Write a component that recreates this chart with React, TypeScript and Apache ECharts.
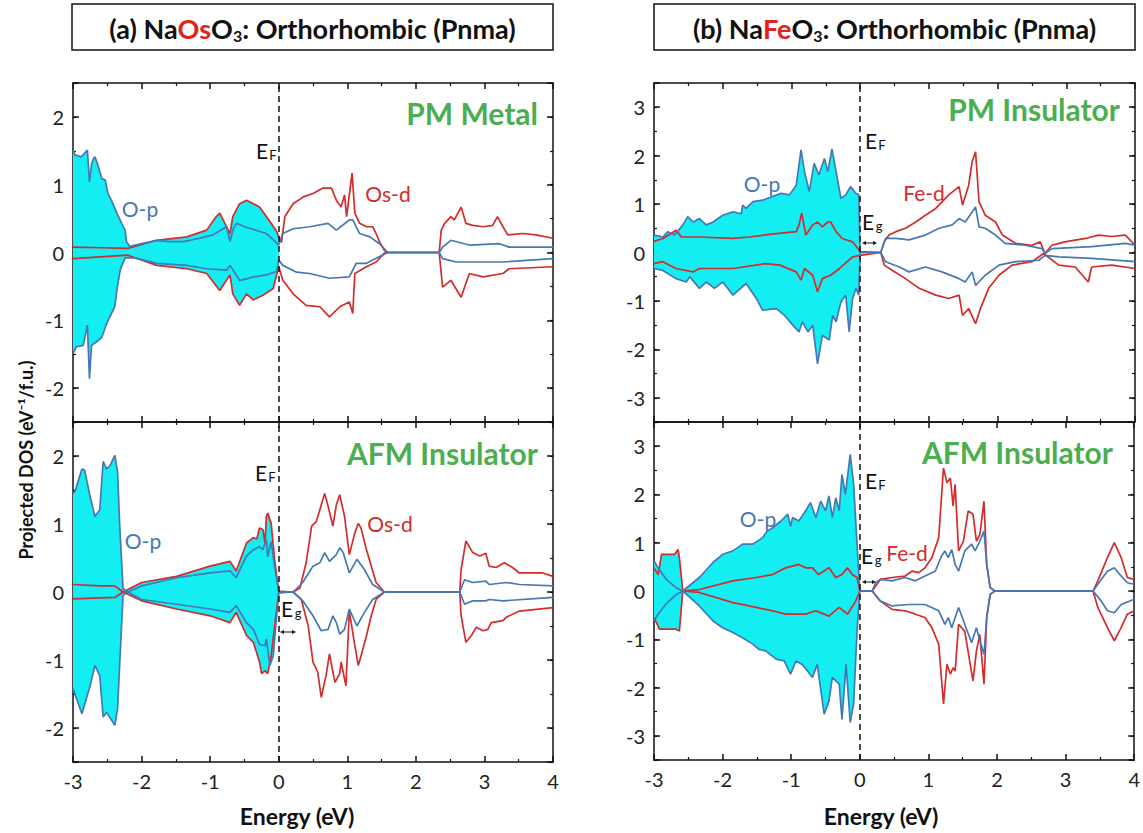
import React, { useEffect, useRef } from 'react';
import * as echarts from 'echarts';

type P = [number, number][];

// ---------- (a) NaOsO3, PM Metal ----------
const aPmOpUp: P = [[-3.0,1.51],[-2.97,1.44],[-2.88,1.41],[-2.79,1.51],[-2.76,1.04],[-2.73,1.30],[-2.70,1.39],[-2.68,1.41],[-2.63,1.27],[-2.58,1.09],[-2.53,1.07],[-2.49,0.87],[-2.44,0.77],[-2.36,0.58],[-2.29,0.43],[-2.24,0.33],[-2.22,0.16],[-2.17,0.09],[-2.0,0.13],[-1.78,0.18],[-1.6,0.16],[-1.39,0.16],[-1.15,0.21],[-0.96,0.26],[-0.81,0.35],[-0.76,0.38],[-0.71,0.16],[-0.66,0.36],[-0.61,0.43],[-0.5,0.38],[-0.4,0.35],[-0.18,0.28],[-0.05,0.16],[0.0,0.11],[0.06,0.28],[0.21,0.35],[0.45,0.38],[0.72,0.43],[0.84,0.33],[1.03,0.48],[1.08,0.48],[1.18,0.28],[1.33,0.23],[1.47,0.13],[1.59,0.0],[2.34,0.0],[2.39,0.08],[2.51,0.18],[2.78,0.11],[3.22,0.13],[3.36,0.08],[4.0,0.08]];
const aPmOpDn: P = [[-3.0,-1.49],[-2.95,-1.39],[-2.85,-1.37],[-2.79,-1.07],[-2.76,-1.86],[-2.73,-1.37],[-2.66,-1.32],[-2.58,-1.25],[-2.51,-1.05],[-2.44,-0.9],[-2.39,-0.8],[-2.36,-0.55],[-2.31,-0.25],[-2.24,-0.08],[-2.1,-0.08],[-1.78,-0.16],[-1.34,-0.19],[-1.05,-0.24],[-0.76,-0.26],[-0.71,-0.19],[-0.57,-0.41],[-0.47,-0.39],[-0.37,-0.36],[-0.18,-0.33],[-0.03,-0.28],[0.0,-0.11],[0.06,-0.19],[0.26,-0.29],[0.45,-0.31],[0.74,-0.38],[1.03,-0.36],[1.13,-0.16],[1.28,-0.16],[1.47,-0.06],[1.59,0.0],[2.34,0.0],[2.39,-0.09],[2.59,-0.14],[3.27,-0.14],[4.0,-0.09]];
const aPmDUp: P = [[-3.0,0.08],[-2.6,0.07],[-2.2,0.06],[-1.78,0.18],[-1.34,0.23],[-1.05,0.33],[-0.91,0.53],[-0.86,0.58],[-0.71,0.28],[-0.67,0.53],[-0.57,0.72],[-0.47,0.77],[-0.37,0.72],[-0.28,0.67],[-0.18,0.53],[-0.11,0.43],[-0.03,0.31],[0.0,0.23],[0.04,0.15],[0.09,0.53],[0.21,0.72],[0.36,0.82],[0.5,0.87],[0.65,0.95],[0.77,0.95],[0.84,0.77],[0.91,0.67],[0.96,0.85],[0.99,0.53],[1.07,1.17],[1.11,0.58],[1.18,0.43],[1.28,0.38],[1.37,0.38],[1.42,0.28],[1.47,0.16],[1.54,0.03],[1.59,0.0],[2.34,0.0],[2.37,0.33],[2.42,0.43],[2.51,0.53],[2.56,0.48],[2.66,0.67],[2.73,0.43],[2.83,0.4],[2.98,0.38],[3.12,0.4],[3.19,0.53],[3.27,0.38],[3.34,0.26],[3.56,0.28],[3.75,0.26],[4.0,0.21]];
const aPmDDn: P = [[-3.0,-0.09],[-2.2,-0.04],[-1.78,-0.19],[-1.34,-0.24],[-1.05,-0.31],[-0.86,-0.56],[-0.71,-0.33],[-0.67,-0.61],[-0.57,-0.78],[-0.47,-0.61],[-0.37,-0.7],[-0.23,-0.63],[-0.08,-0.53],[0.0,-0.21],[0.06,-0.41],[0.21,-0.61],[0.4,-0.78],[0.6,-0.8],[0.74,-0.95],[0.89,-0.8],[1.03,-0.73],[1.08,-0.9],[1.11,-0.31],[1.28,-0.21],[1.42,-0.14],[1.54,-0.01],[1.59,0.0],[2.34,0.0],[2.39,-0.51],[2.51,-0.41],[2.66,-0.66],[2.78,-0.31],[2.98,-0.36],[3.27,-0.31],[3.36,-0.24],[4.0,-0.21]];

// ---------- (a) NaOsO3, AFM Insulator ----------
const aAfmOpUp: P = [[-3.0,1.45],[-2.97,1.48],[-2.87,1.81],[-2.83,1.79],[-2.75,1.4],[-2.68,1.11],[-2.61,1.21],[-2.56,1.92],[-2.51,1.81],[-2.46,1.86],[-2.39,2.01],[-2.35,1.77],[-2.32,1.0],[-2.27,0.05],[-2.2,0.0],[-2.0,0.09],[-1.49,0.21],[-1.0,0.28],[-0.71,0.31],[-0.62,0.21],[-0.47,0.53],[-0.37,0.62],[-0.28,0.67],[-0.23,0.62],[-0.18,0.77],[-0.16,0.52],[-0.11,0.74],[-0.06,0.38],[0.0,0.01],[0.21,0.0],[0.35,0.14],[0.5,0.38],[0.6,0.43],[0.67,0.58],[0.74,0.45],[0.84,0.55],[0.89,0.65],[0.94,0.58],[1.03,0.28],[1.14,0.48],[1.25,0.33],[1.37,0.11],[1.54,0.0],[2.64,0.0],[2.71,0.18],[2.83,0.14],[3.02,0.16],[3.07,0.11],[3.32,0.14],[3.51,0.11],[4.0,0.09]];
const aAfmOpDn: P = [[-3.0,-1.42],[-2.87,-1.79],[-2.75,-1.38],[-2.68,-1.08],[-2.61,-1.23],[-2.56,-1.84],[-2.51,-1.77],[-2.39,-1.96],[-2.35,-1.72],[-2.32,-1.08],[-2.27,-0.05],[-2.2,0.0],[-2.0,-0.11],[-1.49,-0.18],[-1.0,-0.25],[-0.71,-0.3],[-0.62,-0.2],[-0.47,-0.45],[-0.37,-0.55],[-0.28,-0.77],[-0.2,-0.79],[-0.18,-0.69],[-0.13,-1.08],[-0.08,-0.94],[-0.03,-0.35],[0.0,-0.01],[0.21,0.0],[0.35,-0.13],[0.5,-0.35],[0.62,-0.57],[0.72,-0.55],[0.79,-0.35],[0.84,-0.45],[0.89,-0.62],[0.96,-0.55],[1.03,-0.25],[1.14,-0.5],[1.25,-0.3],[1.37,-0.11],[1.54,0.0],[2.64,0.0],[2.71,-0.18],[2.83,-0.13],[3.02,-0.13],[3.07,-0.11],[3.27,-0.13],[4.0,-0.08]];
const aAfmDUp: P = [[-3.0,0.11],[-2.61,0.09],[-2.39,0.09],[-2.27,0.0],[-2.0,0.14],[-1.49,0.23],[-1.0,0.38],[-0.71,0.45],[-0.62,0.31],[-0.47,0.72],[-0.37,0.8],[-0.32,0.78],[-0.28,0.94],[-0.23,0.92],[-0.2,0.72],[-0.18,1.11],[-0.16,1.16],[-0.11,1.01],[-0.06,0.48],[0.0,0.01],[0.21,0.0],[0.31,0.06],[0.4,0.43],[0.48,0.97],[0.55,1.04],[0.6,1.21],[0.67,1.45],[0.72,1.26],[0.79,0.97],[0.84,1.28],[0.89,1.43],[0.96,1.11],[1.03,0.55],[1.11,0.87],[1.16,1.01],[1.2,0.94],[1.28,0.62],[1.35,0.38],[1.42,0.14],[1.54,0.0],[2.64,0.0],[2.66,0.33],[2.73,0.75],[2.83,0.58],[2.93,0.53],[3.02,0.57],[3.07,0.38],[3.17,0.36],[3.29,0.43],[3.41,0.36],[3.51,0.28],[3.85,0.28],[4.0,0.23]];
const aAfmDDn: P = [[-3.0,-0.1],[-2.39,-0.08],[-2.27,0.0],[-2.0,-0.13],[-1.49,-0.25],[-1.0,-0.35],[-0.71,-0.45],[-0.62,-0.3],[-0.47,-0.64],[-0.37,-0.74],[-0.28,-1.03],[-0.25,-1.2],[-0.2,-1.16],[-0.16,-1.2],[-0.11,-0.94],[-0.06,-0.5],[0.0,-0.01],[0.21,0.0],[0.33,-0.11],[0.43,-0.5],[0.5,-1.03],[0.57,-1.18],[0.62,-1.55],[0.69,-1.23],[0.74,-0.91],[0.82,-1.33],[0.89,-1.2],[0.91,-1.03],[0.98,-1.38],[1.03,-0.28],[1.11,-0.79],[1.16,-1.08],[1.2,-0.94],[1.28,-0.64],[1.35,-0.35],[1.42,-0.11],[1.54,0.0],[2.64,0.0],[2.66,-0.35],[2.73,-0.74],[2.81,-0.64],[2.88,-0.52],[2.98,-0.57],[3.05,-0.55],[3.1,-0.45],[3.27,-0.42],[3.32,-0.37],[3.51,-0.28],[4.0,-0.23]];

// ---------- (b) NaFeO3, PM Insulator ----------
const bPmOpUp: P = [[-3.0,0.36],[-2.87,0.32],[-2.8,0.43],[-2.7,0.36],[-2.58,0.57],[-2.51,0.74],[-2.43,0.63],[-2.34,0.7],[-2.24,0.57],[-2.14,0.63],[-2.0,0.77],[-1.85,0.84],[-1.73,0.8],[-1.71,0.98],[-1.66,0.91],[-1.56,1.05],[-1.42,1.08],[-1.27,1.16],[-1.15,1.22],[-1.03,1.19],[-0.93,1.39],[-0.86,2.12],[-0.81,1.67],[-0.74,1.26],[-0.67,1.84],[-0.6,1.6],[-0.52,1.94],[-0.47,1.67],[-0.41,2.14],[-0.35,1.67],[-0.28,1.12],[-0.21,1.19],[-0.14,1.36],[-0.06,1.22],[-0.02,1.19],[0.0,0.0],[0.3,0.0],[0.37,0.29],[0.52,0.29],[0.71,0.26],[0.95,0.36],[1.15,0.5],[1.34,0.57],[1.44,0.7],[1.53,0.63],[1.68,0.94],[1.73,0.53],[1.82,0.5],[1.97,0.36],[2.11,0.19],[2.4,0.15],[2.65,0.08],[2.69,-0.02],[2.79,0.08],[3.37,0.12],[3.86,0.19],[4.0,0.15]];
const bPmOpDn: P = [[-3.0,-0.33],[-2.87,-0.37],[-2.68,-0.54],[-2.53,-0.61],[-2.48,-0.5],[-2.34,-0.74],[-2.24,-0.61],[-2.12,-0.74],[-2.0,-0.61],[-1.85,-0.88],[-1.66,-0.64],[-1.51,-0.95],[-1.42,-1.19],[-1.22,-1.16],[-1.1,-1.3],[-0.98,-1.5],[-0.89,-1.64],[-0.84,-1.43],[-0.76,-1.64],[-0.69,-1.5],[-0.62,-2.3],[-0.55,-1.71],[-0.45,-1.81],[-0.4,-1.3],[-0.35,-1.43],[-0.28,-1.02],[-0.21,-0.88],[-0.16,-1.64],[-0.11,-0.95],[-0.06,-0.74],[-0.02,-0.88],[0.0,0.0],[0.3,0.0],[0.37,-0.19],[0.57,-0.3],[0.71,-0.4],[0.95,-0.3],[1.19,-0.4],[1.44,-0.54],[1.53,-0.61],[1.63,-0.4],[1.68,-0.68],[1.82,-0.47],[2.02,-0.26],[2.26,-0.19],[2.6,-0.16],[2.69,-0.06],[2.89,-0.09],[3.37,-0.12],[4.0,-0.19]];
const bPmDUp: P = [[-3.0,0.23],[-2.87,0.29],[-2.68,0.46],[-2.6,0.32],[-2.34,0.32],[-1.85,0.29],[-1.61,0.32],[-1.22,0.39],[-0.93,0.43],[-0.89,0.57],[-0.85,0.81],[-0.79,0.36],[-0.69,0.57],[-0.62,0.63],[-0.55,0.53],[-0.47,0.63],[-0.43,0.63],[-0.35,0.43],[-0.26,0.29],[-0.11,0.22],[0.0,0.02],[0.3,0.0],[0.35,0.22],[0.42,0.36],[0.52,0.43],[0.66,0.5],[0.81,0.63],[0.95,0.77],[1.1,0.91],[1.29,1.19],[1.44,1.36],[1.49,0.98],[1.58,1.39],[1.63,1.88],[1.68,2.08],[1.73,1.05],[1.82,0.77],[1.97,0.63],[2.07,0.36],[2.26,0.19],[2.5,0.15],[2.62,0.22],[2.69,-0.02],[2.79,0.15],[2.98,0.22],[3.28,0.29],[3.47,0.36],[3.66,0.33],[3.86,0.36],[4.0,0.15]];
const bPmDDn: P = [[-3.0,-0.23],[-2.87,-0.19],[-2.68,-0.33],[-2.43,-0.4],[-2.34,-0.33],[-1.85,-0.33],[-1.37,-0.23],[-1.17,-0.26],[-0.93,-0.4],[-0.86,-0.57],[-0.81,-0.33],[-0.69,-0.47],[-0.62,-0.81],[-0.55,-0.54],[-0.43,-0.47],[-0.3,-0.33],[-0.11,-0.09],[0.0,-0.06],[0.3,0.0],[0.35,-0.26],[0.47,-0.37],[0.66,-0.54],[0.86,-0.74],[1.1,-0.88],[1.29,-0.95],[1.44,-0.88],[1.49,-1.3],[1.58,-1.16],[1.68,-1.47],[1.75,-1.16],[1.87,-0.74],[2.02,-0.47],[2.21,-0.26],[2.5,-0.19],[2.67,-0.02],[2.89,-0.26],[3.13,-0.3],[3.32,-0.61],[3.37,-0.3],[3.66,-0.26],[4.0,-0.33]];

// ---------- (b) NaFeO3, AFM Insulator ----------
const bAfmOpUp: P = [[-3.0,0.62],[-2.94,0.48],[-2.82,0.24],[-2.68,0.07],[-2.58,0.0],[-2.34,0.28],[-2.14,0.59],[-2.0,0.76],[-1.85,0.83],[-1.71,0.97],[-1.56,0.97],[-1.42,1.1],[-1.35,1.24],[-1.27,1.31],[-1.15,1.45],[-1.05,1.59],[-1.01,1.34],[-0.98,1.52],[-0.89,1.45],[-0.79,1.66],[-0.72,1.83],[-0.64,1.52],[-0.57,1.86],[-0.5,1.66],[-0.45,1.97],[-0.4,1.52],[-0.35,1.93],[-0.3,1.66],[-0.26,2.41],[-0.21,2.0],[-0.14,2.83],[-0.09,2.21],[-0.04,0.97],[0.0,0.0],[0.18,0.0],[0.23,0.17],[0.3,0.24],[0.47,0.21],[0.66,0.28],[0.81,0.21],[0.95,0.31],[1.1,0.41],[1.19,0.72],[1.24,0.83],[1.29,0.69],[1.34,0.86],[1.39,0.55],[1.44,0.41],[1.53,0.83],[1.63,0.97],[1.68,0.83],[1.75,1.03],[1.81,1.24],[1.85,0.55],[1.9,0.07],[1.97,0.0],[3.4,0.0],[3.52,0.24],[3.61,0.41],[3.71,0.48],[3.81,0.31],[3.9,0.17],[4.0,0.14]];
const bAfmOpDn: P = [[-3.0,-0.62],[-2.94,-0.48],[-2.82,-0.26],[-2.68,-0.08],[-2.58,0.0],[-2.34,-0.31],[-2.14,-0.62],[-2.0,-0.76],[-1.85,-0.86],[-1.71,-0.97],[-1.56,-1.1],[-1.47,-1.21],[-1.37,-1.24],[-1.22,-1.41],[-1.1,-1.45],[-1.01,-1.72],[-0.93,-1.45],[-0.84,-1.52],[-0.76,-1.66],[-0.69,-1.79],[-0.62,-1.52],[-0.52,-2.55],[-0.45,-2.28],[-0.4,-1.79],[-0.3,-1.93],[-0.26,-2.66],[-0.2,-1.52],[-0.14,-2.72],[-0.09,-2.34],[-0.04,-0.83],[0.0,0.0],[0.18,0.0],[0.3,-0.21],[0.47,-0.31],[0.71,-0.28],[0.95,-0.28],[1.15,-0.41],[1.24,-0.69],[1.29,-0.55],[1.34,-0.76],[1.39,-0.55],[1.44,-0.34],[1.53,-0.69],[1.63,-1.07],[1.7,-0.76],[1.75,-1.03],[1.81,-1.31],[1.85,-0.55],[1.9,-0.07],[1.97,0.0],[3.4,0.0],[3.52,-0.21],[3.61,-0.41],[3.71,-0.45],[3.81,-0.28],[4.0,-0.17]];
const bAfmDUp: P = [[-3.0,0.48],[-2.94,0.34],[-2.89,0.76],[-2.7,0.76],[-2.65,0.86],[-2.63,0.69],[-2.58,0.0],[-2.34,0.03],[-1.85,0.21],[-1.51,0.28],[-1.27,0.34],[-1.08,0.48],[-0.89,0.55],[-0.79,0.48],[-0.69,0.48],[-0.6,0.34],[-0.45,0.48],[-0.35,0.28],[-0.26,0.34],[-0.18,0.48],[-0.11,0.34],[-0.04,0.28],[0.0,0.0],[0.18,0.0],[0.3,0.24],[0.47,0.28],[0.66,0.31],[0.76,0.41],[0.86,0.38],[0.95,0.48],[1.05,0.69],[1.15,1.1],[1.22,2.55],[1.27,2.24],[1.32,2.34],[1.36,1.76],[1.39,2.21],[1.44,0.83],[1.51,1.03],[1.58,1.66],[1.65,1.59],[1.7,1.03],[1.75,1.17],[1.81,1.86],[1.85,0.55],[1.9,0.07],[1.97,0.0],[3.4,0.0],[3.47,0.21],[3.61,0.69],[3.71,1.0],[3.81,0.69],[3.9,0.28],[4.0,0.24]];
const bAfmDDn: P = [[-3.0,-0.55],[-2.92,-0.79],[-2.68,-0.79],[-2.63,-0.83],[-2.58,0.0],[-2.34,-0.03],[-1.85,-0.24],[-1.51,-0.34],[-1.27,-0.41],[-1.08,-0.48],[-0.79,-0.48],[-0.64,-0.41],[-0.45,-0.52],[-0.3,-0.34],[-0.18,-0.48],[-0.06,-0.21],[0.0,0.0],[0.18,0.0],[0.3,-0.21],[0.47,-0.38],[0.66,-0.41],[0.81,-0.48],[0.95,-0.55],[1.05,-0.76],[1.15,-1.1],[1.22,-2.34],[1.27,-1.52],[1.32,-1.72],[1.36,-1.59],[1.39,-1.66],[1.44,-0.69],[1.53,-0.83],[1.65,-1.86],[1.7,-1.24],[1.75,-0.9],[1.81,-1.93],[1.85,-0.55],[1.9,-0.07],[1.97,0.0],[3.4,0.0],[3.47,-0.34],[3.61,-0.76],[3.71,-1.03],[3.81,-0.76],[3.9,-0.48],[4.0,-0.41]];

// axis settings
const xMin = -3;
const xMax = 4;
const yLimits = [2.5, 2.5, 3.5, 3.5];
const panelNames = ['PM Metal', 'AFM Insulator', 'PM Insulator', 'AFM Insulator'];
const titles = [
  { tag: '(a) Na', metal: 'Os' },
  { tag: '(b) Na', metal: 'Fe' },
];
const xTitle = 'Energy (eV)';
const yTitle = 'Projected DOS (eV\u207B\u00B9/f.u.)';

const panelData = [
  { op: [aPmOpUp, aPmOpDn], d: [aPmDUp, aPmDDn] },
  { op: [aAfmOpUp, aAfmOpDn], d: [aAfmDUp, aAfmDDn] },
  { op: [bPmOpUp, bPmOpDn], d: [bPmDUp, bPmDDn] },
  { op: [bAfmOpUp, bAfmOpDn], d: [bAfmDUp, bAfmDDn] },
];

const FAM = 'Lato, "Noto Sans", sans-serif';
const BLUE = '#4578b4';
const RED = '#d42b2b';
const CYAN = '#12eef2';
const GREEN = '#4cae4f';
const INK = '#111';

const grids = [
  { left: 73, top: 83, width: 480, height: 339 },
  { left: 73, top: 422, width: 480, height: 340 },
  { left: 654, top: 83, width: 481, height: 339 },
  { left: 654, top: 422, width: 481, height: 338 },
];

function buildOption() {
  const xAxis: any[] = [];
  const yAxis: any[] = [];
  const series: any[] = [];
  const lineStyle = { color: INK, width: 1.5 };
  grids.forEach((_, g) => {
    const isBottom = g === 1 || g === 3;
    const L = yLimits[g];
    ['bottom', 'top'].forEach((pos) => {
      xAxis.push({
        gridIndex: g, type: 'value', min: xMin, max: xMax, interval: 1, position: pos,
        axisLine: { show: true, onZero: false, lineStyle },
        axisTick: { show: true, inside: true, length: 6, lineStyle },
        minorTick: { show: true, splitNumber: 2, length: 3, lineStyle: { color: INK, width: 1.2 } },
        splitLine: { show: false },
        axisLabel: {
          show: isBottom && pos === 'bottom', fontSize: 20, color: '#222', margin: 9,
          fontFamily: FAM,
        },
      });
    });
    ['left', 'right'].forEach((pos) => {
      yAxis.push({
        gridIndex: g, type: 'value', min: -L, max: L, splitNumber: L * 2, position: pos,
        axisLine: { show: true, onZero: false, lineStyle },
        axisTick: { show: true, inside: true, length: 6, lineStyle },
        splitLine: { show: false },
        axisLabel: {
          show: pos === 'left', fontSize: 20, color: '#222', margin: 9, fontFamily: FAM,
          formatter: (v: number) => (Math.abs(v - Math.round(v)) < 1e-6 ? String(Math.round(v)) : ''),
        },
      });
      yAxis.push({
        gridIndex: g, type: 'value', min: -L, max: L, interval: 0.5, position: pos,
        axisLine: { show: false, onZero: false },
        axisTick: { show: true, inside: true, length: 3, lineStyle: { color: INK, width: 1.2 } },
        splitLine: { show: false },
        axisLabel: { show: false },
      });
    });
    const xi = 2 * g;
    const yi = 4 * g;
    const pd = panelData[g];
    const all = [...pd.op, ...pd.d];
    all.forEach((arr) => {
      series.push({
        type: 'line', xAxisIndex: xi, yAxisIndex: yi, silent: true,
        data: arr.filter((p) => p[0] <= 0), symbol: 'none',
        lineStyle: { width: 0, opacity: 0 },
        areaStyle: { color: CYAN, opacity: 1, origin: 0 },
        z: 1,
      });
    });
    pd.d.forEach((arr) => {
      series.push({
        type: 'line', xAxisIndex: xi, yAxisIndex: yi, silent: true, data: arr,
        symbol: 'none', lineStyle: { color: RED, width: 1.7 }, z: 3,
      });
    });
    pd.op.forEach((arr, k) => {
      series.push({
        type: 'line', xAxisIndex: xi, yAxisIndex: yi, silent: true, data: arr,
        symbol: 'none', lineStyle: { color: BLUE, width: 1.7 }, z: 4,
        markLine: k === 0 ? {
          silent: true, symbol: ['none', 'none'], label: { show: false },
          lineStyle: { color: INK, type: [6, 4], width: 1.5 },
          data: [{ xAxis: 0 }],
        } : undefined,
      });
    });
  });

  const txt = (x: number, y: number, text: string, fontSize: number, color: string, extra: any = {}) => ({
    type: 'text', x, y, silent: true,
    style: { text, fontSize, fill: color, fontFamily: FAM, align: 'center', verticalAlign: 'middle', ...extra },
  });

  const subE = (x: number, y: number, sub: string) => [
    txt(x, y, 'E', 21, INK),
    txt(x + 11, y + 5, sub, 13, INK),
  ];

  const arrow = (x1: number, x2: number, y: number) => [
    { type: 'line', silent: true, shape: { x1: x1 + 2, y1: y, x2: x2 - 2, y2: y }, style: { stroke: INK, lineWidth: 1 } },
    { type: 'polygon', silent: true, shape: { points: [[x1, y], [x1 + 4, y - 2], [x1 + 4, y + 2]] }, style: { fill: INK } },
    { type: 'polygon', silent: true, shape: { points: [[x2, y], [x2 - 4, y - 2], [x2 - 4, y + 2]] }, style: { fill: INK } },
  ];

  const TS = 27;
  const SS = 16;
  const tFont = (size: number) => `bold ${size}px ${FAM}`;
  const titleBox = (x: number, w: number, t: { tag: string; metal: string }) => [
    { type: 'rect', silent: true, shape: { x, y: 4, width: w, height: 46 }, style: { fill: '#fff', stroke: INK, lineWidth: 1.5 } },
    {
      type: 'text', x: x + w / 2, y: 28, silent: true,
      style: {
        text: `{b|${t.tag}}{r|${t.metal}}{b|O}{s|3}{b|: Orthorhombic (Pnma)}`,
        align: 'center', verticalAlign: 'middle',
        fontSize: TS, fontWeight: 'bold', fontFamily: FAM, font: tFont(TS),
        rich: {
          b: { fontSize: TS, fontWeight: 'bold', fill: INK, fontFamily: FAM, font: tFont(TS), lineHeight: 30 },
          r: { fontSize: TS, fontWeight: 'bold', fill: '#e0211c', fontFamily: FAM, font: tFont(TS), lineHeight: 30 },
          s: { fontSize: SS, fontWeight: 'bold', fill: INK, fontFamily: FAM, font: tFont(SS), lineHeight: 30, verticalAlign: 'bottom', padding: [6, 0, 0, 0] },
        },
      },
    },
  ];

  const bold = { fontWeight: 'bold' };
  const right = { fontWeight: 'bold', align: 'right' };

  const graphic: any[] = [
    ...titleBox(72, 481, titles[0]),
    ...titleBox(654, 481, titles[1]),
    txt(538, 113, panelNames[0], 30, GREEN, right),
    txt(538, 453, panelNames[1], 30, GREEN, right),
    txt(1120, 109, panelNames[2], 30, GREEN, right),
    txt(1113, 452, panelNames[3], 30, GREEN, right),
    txt(140, 208, 'O-p', 21, BLUE),
    txt(143, 540, 'O-p', 21, BLUE),
    txt(762, 183, 'O-p', 21, BLUE),
    txt(758, 518, 'O-p', 21, BLUE),
    txt(388, 193, 'Os-d', 21, RED),
    txt(390, 523, 'Os-d', 21, RED),
    txt(924, 192, 'Fe-d', 21, RED),
    txt(907, 552, 'Fe-d', 21, RED),
    ...subE(262, 150, 'F'),
    ...subE(261, 472, 'F'),
    ...subE(871, 140, 'F'),
    ...subE(871, 480, 'F'),
    ...subE(287, 608, 'g'),
    ...subE(868, 221, 'g'),
    ...subE(867, 555, 'g'),
    ...arrow(280, 296, 632),
    ...arrow(862, 877, 243),
    ...arrow(862, 876, 582),
    txt(297, 816, xTitle, 23, INK, bold),
    txt(881, 816, xTitle, 23, INK, bold),
    { ...txt(26, 460, yTitle, 18, INK, { fontWeight: 'bold', font: `bold 18px ${FAM}` }), rotation: Math.PI / 2 },
  ];

  return {
    animation: false,
    backgroundColor: '#fff',
    grid: grids.map((g) => ({ ...g, containLabel: false })),
    xAxis, yAxis, series, graphic,
  };
}

export default function App() {
  const ref = useRef<HTMLDivElement>(null);
  useEffect(() => {
    if (!ref.current) return;
    const chart = echarts.init(ref.current, undefined, { renderer: 'svg' });
    chart.setOption(buildOption() as any);
    return () => chart.dispose();
  }, []);
  return <div ref={ref} style={{ position: 'fixed', left: 0, top: 0, width: 1143, height: 833, background: '#fff' }} />;
}
